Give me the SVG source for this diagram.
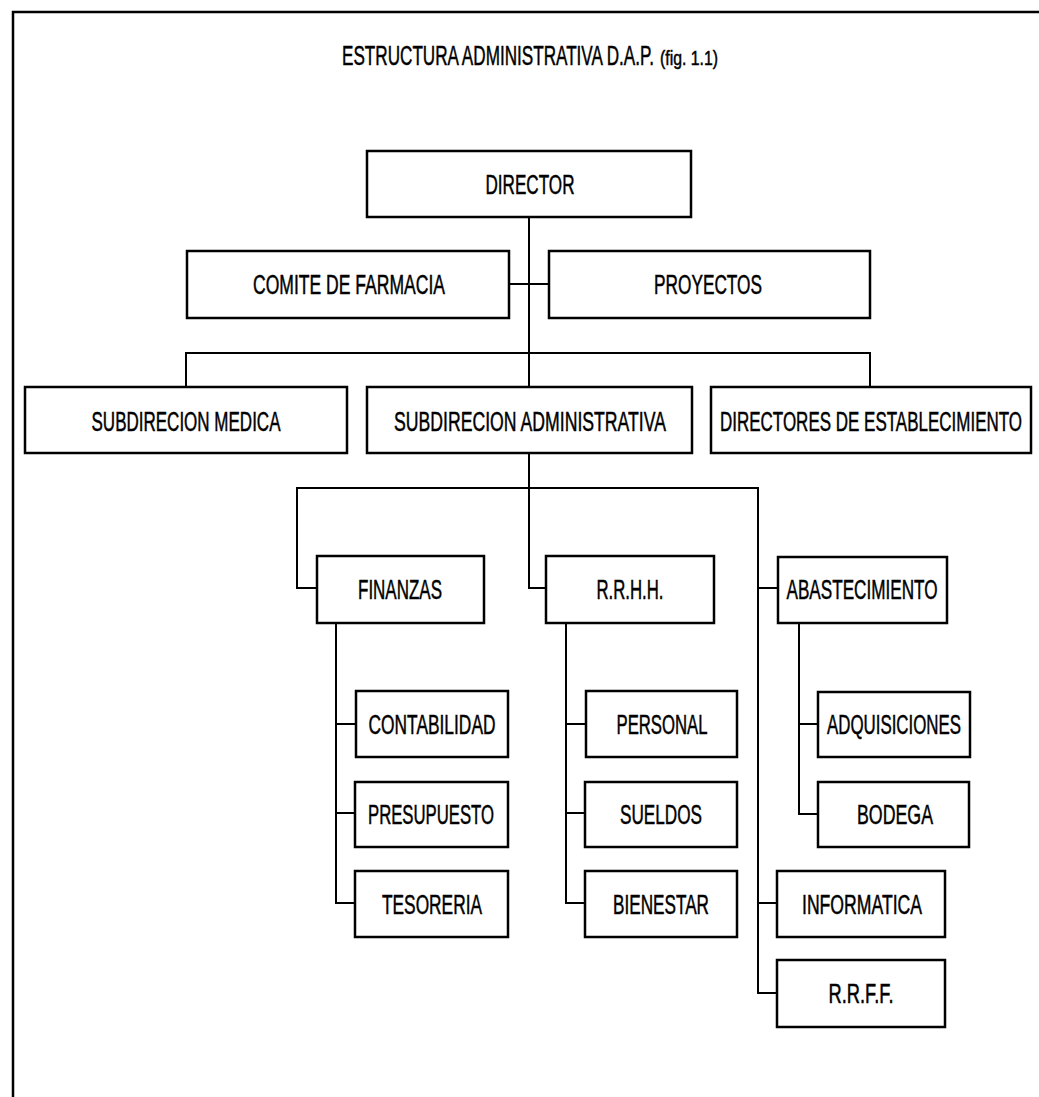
<svg xmlns="http://www.w3.org/2000/svg" width="1039" height="1097" viewBox="0 0 1039 1097">
  <style>
    .frame { fill: none; stroke: #000; stroke-width: 2.5; }
    .box { fill: #fff; stroke: #000; stroke-width: 2.5; }
    .link { fill: none; stroke: #000; stroke-width: 2; }
    .lbl { font-family: "Liberation Sans", Arial, sans-serif; font-size: 27px; fill: #000; stroke: #000; stroke-width: 0.5; text-anchor: middle; }
    .title { font-family: "Liberation Sans", Arial, sans-serif; fill: #000; stroke: #000; stroke-width: 0.5; }
  </style>
  <rect width="1039" height="1097" fill="#fff"/>

  <!-- page frame: top and left rules only -->
  <path class="frame" d="M13,1097 V12 H1039"/>

  <!-- heading -->
  <text class="title" x="342" y="65" font-size="27" textLength="312" lengthAdjust="spacingAndGlyphs">ESTRUCTURA ADMINISTRATIVA D.A.P.</text>
  <text class="title" x="660" y="65" font-size="21" textLength="58" lengthAdjust="spacingAndGlyphs">(fig. 1.1)</text>

  <!-- connectors -->
  <g id="connectors">
    <path class="link" d="M529,217 V387"/>
    <path class="link" d="M509,284 H549"/>
    <path class="link" d="M186,387 V353 H870 V387"/>
    <path class="link" d="M529,453 V588 H546"/>
    <path class="link" d="M317,588 H297 V488 H758 V993 H777"/>
    <path class="link" d="M758,588 H778"/>
    <path class="link" d="M758,903 H777"/>
    <path class="link" d="M336,623 V903 H355"/>
    <path class="link" d="M336,724 H356"/>
    <path class="link" d="M336,813 H355"/>
    <path class="link" d="M566,623 V903 H585"/>
    <path class="link" d="M566,724 H586"/>
    <path class="link" d="M566,813 H585"/>
    <path class="link" d="M799,623 V814 H818"/>
    <path class="link" d="M799,724 H818"/>
  </g>

  <!-- nodes -->
  <g id="director">
    <rect class="box" x="367" y="151" width="324" height="66"/>
    <text class="lbl" x="530" y="194" textLength="89" lengthAdjust="spacingAndGlyphs">DIRECTOR</text>
  </g>
  <g id="comite-farmacia">
    <rect class="box" x="187" y="251" width="322" height="67"/>
    <text class="lbl" x="349" y="294" textLength="192" lengthAdjust="spacingAndGlyphs">COMITE DE FARMACIA</text>
  </g>
  <g id="proyectos">
    <rect class="box" x="549" y="251" width="321" height="67"/>
    <text class="lbl" x="708" y="294" textLength="108" lengthAdjust="spacingAndGlyphs">PROYECTOS</text>
  </g>
  <g id="subdir-medica">
    <rect class="box" x="25" y="387" width="322" height="66"/>
    <text class="lbl" x="186" y="431" textLength="189" lengthAdjust="spacingAndGlyphs">SUBDIRECION MEDICA</text>
  </g>
  <g id="subdir-administrativa">
    <rect class="box" x="367" y="387" width="325" height="66"/>
    <text class="lbl" x="530" y="431" textLength="272" lengthAdjust="spacingAndGlyphs">SUBDIRECION ADMINISTRATIVA</text>
  </g>
  <g id="directores-establecimiento">
    <rect class="box" x="711" y="387" width="320" height="66"/>
    <text class="lbl" x="871" y="431" textLength="302" lengthAdjust="spacingAndGlyphs">DIRECTORES DE ESTABLECIMIENTO</text>
  </g>
  <g id="finanzas">
    <rect class="box" x="317" y="556" width="167" height="67"/>
    <text class="lbl" x="400" y="599" textLength="84" lengthAdjust="spacingAndGlyphs">FINANZAS</text>
  </g>
  <g id="rrhh">
    <rect class="box" x="546" y="556" width="168" height="67"/>
    <text class="lbl" x="630" y="599" textLength="67" lengthAdjust="spacingAndGlyphs">R.R.H.H.</text>
  </g>
  <g id="abastecimiento">
    <rect class="box" x="778" y="557" width="169" height="66"/>
    <text class="lbl" x="862" y="599" textLength="151" lengthAdjust="spacingAndGlyphs">ABASTECIMIENTO</text>
  </g>
  <g id="contabilidad">
    <rect class="box" x="356" y="691" width="152" height="66"/>
    <text class="lbl" x="432" y="734" textLength="127" lengthAdjust="spacingAndGlyphs">CONTABILIDAD</text>
  </g>
  <g id="personal">
    <rect class="box" x="586" y="691" width="151" height="66"/>
    <text class="lbl" x="662" y="734" textLength="91" lengthAdjust="spacingAndGlyphs">PERSONAL</text>
  </g>
  <g id="adquisiciones">
    <rect class="box" x="818" y="692" width="152" height="65"/>
    <text class="lbl" x="894" y="734" textLength="134" lengthAdjust="spacingAndGlyphs">ADQUISICIONES</text>
  </g>
  <g id="presupuesto">
    <rect class="box" x="355" y="782" width="153" height="65"/>
    <text class="lbl" x="431" y="824" textLength="126" lengthAdjust="spacingAndGlyphs">PRESUPUESTO</text>
  </g>
  <g id="sueldos">
    <rect class="box" x="585" y="782" width="152" height="65"/>
    <text class="lbl" x="661" y="824" textLength="82" lengthAdjust="spacingAndGlyphs">SUELDOS</text>
  </g>
  <g id="bodega">
    <rect class="box" x="818" y="782" width="151" height="65"/>
    <text class="lbl" x="895" y="824" textLength="76" lengthAdjust="spacingAndGlyphs">BODEGA</text>
  </g>
  <g id="tesoreria">
    <rect class="box" x="355" y="871" width="153" height="66"/>
    <text class="lbl" x="432" y="914" textLength="100" lengthAdjust="spacingAndGlyphs">TESORERIA</text>
  </g>
  <g id="bienestar">
    <rect class="box" x="585" y="871" width="152" height="66"/>
    <text class="lbl" x="661" y="914" textLength="96" lengthAdjust="spacingAndGlyphs">BIENESTAR</text>
  </g>
  <g id="informatica">
    <rect class="box" x="777" y="871" width="168" height="66"/>
    <text class="lbl" x="862" y="914" textLength="120" lengthAdjust="spacingAndGlyphs">INFORMATICA</text>
  </g>
  <g id="rrff">
    <rect class="box" x="777" y="960" width="168" height="67"/>
    <text class="lbl" x="861" y="1003" textLength="65" lengthAdjust="spacingAndGlyphs">R.R.F.F.</text>
  </g>
</svg>
